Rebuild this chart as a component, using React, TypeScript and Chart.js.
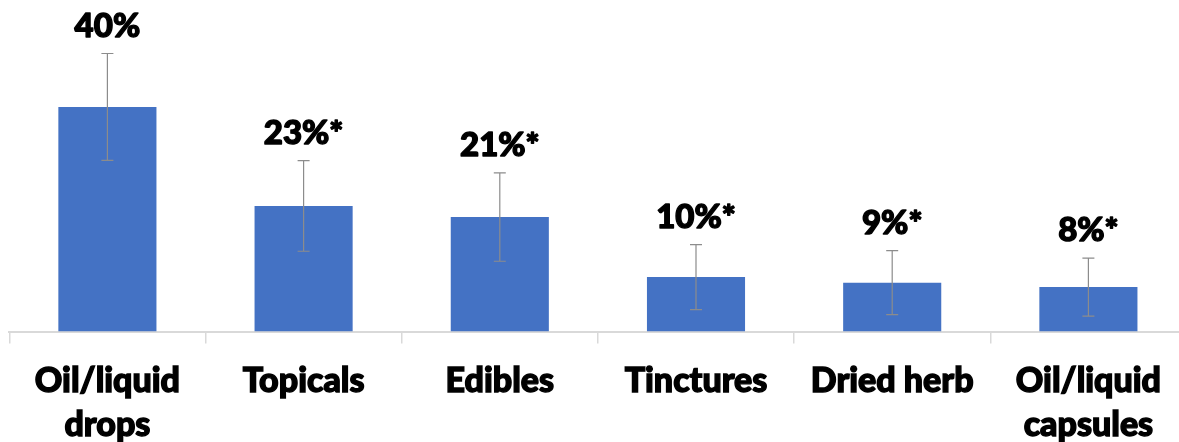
import React, { useEffect, useRef } from "react";
import { Chart, registerables } from "chart.js";

Chart.register(...registerables);

const categories: (string | string[])[] = [
  ["Oil/liquid", "drops"],
  "Topicals",
  "Edibles",
  "Tinctures",
  "Dried herb",
  ["Oil/liquid", "capsules"],
];
const values: number[] = [40.4, 22.6, 20.6, 9.8, 8.8, 8.0];
const errors: number[] = [9.6, 8.15, 7.95, 5.85, 5.75, 5.2];
const valueLabels: string[] = ["40%", "23%*", "21%*", "10%*", "9%*", "8%*"];

const FONT = "Lato, 'Open Sans', sans-serif";

const errorBarPlugin = {
  id: "errorBarsAndLabels",
  afterDatasetsDraw(chart: any) {
    const ctx = chart.ctx;
    const meta = chart.getDatasetMeta(0);
    const y = chart.scales.y;
    ctx.save();
    meta.data.forEach((bar: any, i: number) => {
      const x = bar.x;
      const yTop = y.getPixelForValue(values[i] + errors[i]);
      const yBot = y.getPixelForValue(values[i] - errors[i]);
      ctx.strokeStyle = "#8c8c8c";
      ctx.lineWidth = 1.2;
      ctx.beginPath();
      ctx.moveTo(x, yTop);
      ctx.lineTo(x, yBot);
      ctx.moveTo(x - 6, yTop);
      ctx.lineTo(x + 6, yTop);
      ctx.moveTo(x - 6, yBot);
      ctx.lineTo(x + 6, yBot);
      ctx.stroke();
      ctx.fillStyle = "#000000";
      ctx.strokeStyle = "#000000";
      ctx.lineWidth = 1.4;
      ctx.lineJoin = "round";
      ctx.font = `900 33px ${FONT}`;
      ctx.textAlign = "center";
      ctx.textBaseline = "alphabetic";
      ctx.strokeText(valueLabels[i], x, yTop - 17);
      ctx.fillText(valueLabels[i], x, yTop - 17);
    });
    ctx.restore();
  },
};

export default function App() {
  const ref = useRef<HTMLCanvasElement | null>(null);
  useEffect(() => {
    document.body.style.margin = "0";
    let chart: Chart | null = null;
    let cancelled = false;
    const build = () => {
      if (cancelled || !ref.current) return;
      chart = new Chart(ref.current, {
        type: "bar",
        data: {
          labels: categories,
          datasets: [
            {
              data: values,
              backgroundColor: "#4472C4",
              borderWidth: 0,
              categoryPercentage: 0.5,
              barPercentage: 1.0,
            },
          ],
        },
        options: {
          animation: false,
          responsive: false,
          devicePixelRatio: 1,
          layout: { padding: { left: 9.3, right: 13.5, top: 53.5, bottom: 0 } },
          plugins: { legend: { display: false }, tooltip: { enabled: false } },
          scales: {
            x: {
              grid: {
                display: true,
                drawOnChartArea: false,
                drawTicks: true,
                tickLength: 12,
                color: "#d9d9d9",
                lineWidth: 1.5,
                offset: true,
              },
              border: { display: true, color: "#d9d9d9", width: 2 },
              ticks: {
                color: "#000000",
                textStrokeColor: "#000000",
                textStrokeWidth: 1.4,
                font: { family: FONT, size: 34, weight: "900", lineHeight: 1.3 },
                padding: 15.5,
                maxRotation: 0,
                autoSkip: false,
              },
            },
            y: {
              display: false,
              min: 0,
              max: 50,
            },
          },
        },
        plugins: [errorBarPlugin],
      });
    };
    const fonts: any = (document as any).fonts;
    if (fonts && fonts.load) {
      Promise.all([fonts.load("900 34px Lato"), fonts.load("900 33px Lato")])
        .catch(() => null)
        .then(() => build());
    } else {
      build();
    }
    return () => {
      cancelled = true;
      if (chart) chart.destroy();
    };
  }, []);
  return (
    <div style={{ width: 1179, height: 442, overflow: "hidden", position: "relative", background: "#fff" }}>
      <canvas ref={ref} width={1200} height={463} style={{ display: "block" }} />
    </div>
  );
}
